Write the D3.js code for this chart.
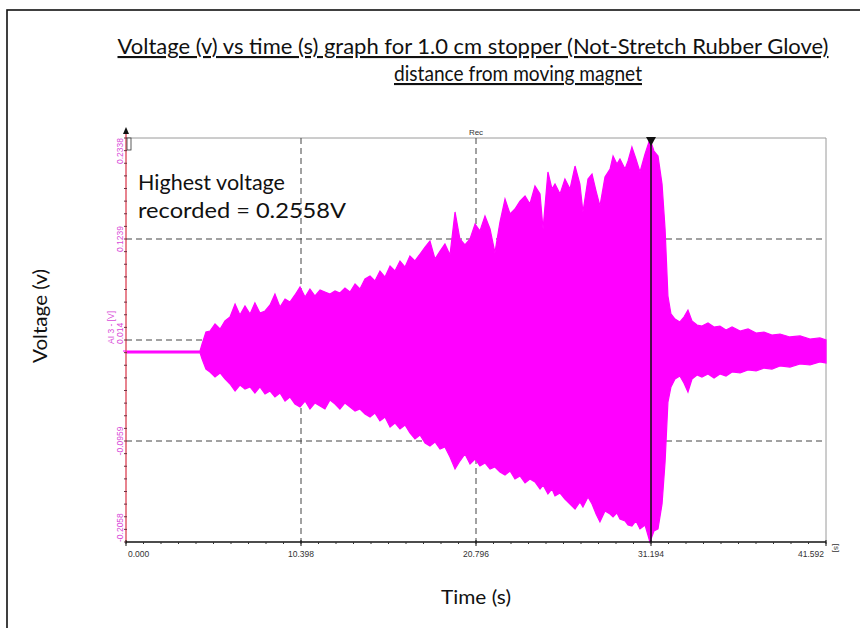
<!DOCTYPE html>
<html>
<head>
<meta charset="utf-8">
<script src="https://cdn.jsdelivr.net/npm/d3@7"></script>
<style>
  body { margin: 0; background: #fff; }
  svg { display: block; }
</style>
</head>
<body>
<svg class="chart"></svg>
<script>
// axis ticks
const xTicks = [0, 10.398, 20.796, 31.194, 41.592];
const xTickLabels = ["0.000", "10.398", "20.796", "31.194", "41.592"];
const yTicks = [0.2338, 0.1239, 0.014, -0.0959, -0.2058];
const yTickLabels = ["0.2338", "0.1239", "0.014", "-0.0959", "-0.2058"];
const cursorTime = 31.194;

// signal envelope: time (s), upper and lower voltage (V)
const times = [0, 4.40, 4.52, 4.75, 4.99, 5.29, 5.59, 5.88, 6.18, 6.48, 6.77, 7.07, 7.37, 7.66, 7.96, 8.26,
  8.56, 8.85, 9.15, 9.45, 9.74, 10.04, 10.34, 10.64, 10.93, 11.23, 11.53, 11.82, 12.12, 12.42, 12.71,
  13.01, 13.31, 13.61, 13.90, 14.20, 14.50, 14.79, 15.09, 15.39, 15.69, 15.98, 16.28, 16.58, 16.87,
  17.17, 17.47, 17.77, 18.06, 18.36, 18.66, 18.95, 19.25, 19.55, 19.84, 20.14, 20.44, 20.74, 21.03,
  21.33, 21.63, 21.92, 22.22, 22.52, 22.82, 23.11, 23.41, 23.71, 24.00, 24.30, 24.60, 24.78, 25.07,
  25.31, 25.49, 25.79, 26.08, 26.38, 26.68, 26.97, 27.15, 27.45, 27.69, 27.93, 28.16, 28.46, 28.76,
  28.94, 29.17, 29.35, 29.65, 29.83, 30.06, 30.30, 30.54, 30.84, 31.13, 31.37, 31.61, 31.85, 32.03,
  32.20, 32.38, 32.62, 32.91, 33.15, 33.39, 33.63, 33.93, 34.22, 34.58, 34.94, 35.29, 35.65, 36.01,
  36.49, 36.96, 37.44, 37.91, 38.38, 38.86, 39.45, 40.05, 40.64, 41.23, 41.592];
const upper = [0.002, 0.002, 0.0096, 0.0227, 0.0238, 0.0314, 0.026, 0.0347, 0.039, 0.0532, 0.0412, 0.051, 0.0423, 0.0543, 0.0434, 0.0456,
  0.0521, 0.064, 0.0499, 0.0586, 0.0553, 0.063, 0.0717, 0.0608, 0.0695, 0.0619, 0.0684, 0.0662, 0.064, 0.0673, 0.0651,
  0.0706, 0.0662, 0.0749, 0.0695, 0.0804, 0.0836, 0.0782, 0.0891, 0.0825, 0.0945, 0.0891, 0.1, 0.0934, 0.1054,
  0.1, 0.1076, 0.1152, 0.1217, 0.1021, 0.1108, 0.1184, 0.1065, 0.1533, 0.1239, 0.1174, 0.1239, 0.1402, 0.1326,
  0.1489, 0.1348, 0.109, 0.1424, 0.1674, 0.1511, 0.1565, 0.1652, 0.1707, 0.162, 0.1816, 0.1729, 0.1348, 0.1968,
  0.1783, 0.1837, 0.1729, 0.1892, 0.1783, 0.2033, 0.1837, 0.1533, 0.1892, 0.1946, 0.1761, 0.1598, 0.1913, 0.2,
  0.2142, 0.2055, 0.2109, 0.2, 0.2088, 0.224, 0.2109, 0.1968, 0.2164, 0.2327, 0.2196, 0.2142, 0.1837, 0.1348,
  0.0619, 0.0423, 0.0368, 0.0336, 0.039, 0.0466, 0.0347, 0.0303, 0.0292, 0.0325, 0.0281, 0.0292, 0.0249, 0.0281,
  0.0238, 0.026, 0.0216, 0.0227, 0.0194, 0.0205, 0.0173, 0.0184, 0.0151, 0.0162, 0.014];
const lower = [0.000, 0.000, -0.0067, -0.0176, -0.0208, -0.0263, -0.0219, -0.0284, -0.0339, -0.0415, -0.035, -0.0393, -0.0371, -0.0437, -0.0371, -0.0448,
  -0.0415, -0.048, -0.0437, -0.0524, -0.048, -0.0556, -0.0589, -0.0524, -0.0611, -0.0545, -0.0578, -0.0611, -0.0513, -0.0556, -0.0611,
  -0.0545, -0.0589, -0.0633, -0.0611, -0.0665, -0.0698, -0.0654, -0.0741, -0.0698, -0.0807, -0.0763, -0.0828, -0.0785, -0.0872,
  -0.0937, -0.0894, -0.0981, -0.1013, -0.097, -0.1046, -0.1024, -0.1133, -0.1264, -0.1177, -0.11, -0.1209, -0.1155, -0.1231,
  -0.1198, -0.1264, -0.1242, -0.1296, -0.1329, -0.1286, -0.1372, -0.134, -0.1416, -0.1372, -0.1405, -0.1481, -0.1438, -0.1536,
  -0.1481, -0.1557, -0.1525, -0.159, -0.1644, -0.1699, -0.1623, -0.1677, -0.1568, -0.1644, -0.1753, -0.184, -0.172, -0.1753,
  -0.1786, -0.1742, -0.1808, -0.1829, -0.1873, -0.1884, -0.1829, -0.1916, -0.1873, -0.2058, -0.1938, -0.1916, -0.1644, -0.1187,
  -0.0535, -0.0371, -0.0284, -0.0252, -0.0328, -0.0426, -0.0284, -0.0241, -0.0263, -0.023, -0.0273, -0.023, -0.0252, -0.0208,
  -0.0219, -0.0186, -0.0197, -0.0165, -0.0176, -0.0143, -0.0154, -0.0121, -0.0132, -0.0099, -0.011];

const width = 860, height = 628;
const plotLeft = 126, plotRight = 826, plotTop = 138, plotBottom = 542;
const magenta = "#ff00ff";
const textFont = "Lato, 'Open Sans', sans-serif";
const smallFont = "'Liberation Sans', Arial, sans-serif";

const svg = d3.select(".chart").attr("width", width).attr("height", height);

// outer frame (only top and left edges are inside the picture)
svg.append("rect").attr("x", 7).attr("y", 10).attr("width", 900).attr("height", 700)
  .attr("fill", "none").attr("stroke", "#111").attr("stroke-width", 1.6);

// scales
const x = d3.scaleLinear().domain([0, 41.592]).range([plotLeft, plotRight]);
const y = d3.scaleLinear().domain([-0.2058, 0.2338]).range([plotBottom, plotTop]);

// title
svg.append("text").attr("x", 473).attr("y", 54)
  .attr("text-anchor", "middle").attr("font-family", textFont).attr("font-size", 21)
  .attr("textLength", 711).attr("lengthAdjust", "spacingAndGlyphs")
  .attr("text-decoration", "underline").attr("fill", "#111")
  .text("Voltage (v) vs time (s) graph for 1.0 cm stopper (Not-Stretch Rubber Glove)");
svg.append("text").attr("x", 518).attr("y", 81)
  .attr("text-anchor", "middle").attr("font-family", textFont).attr("font-size", 21)
  .attr("textLength", 248).attr("lengthAdjust", "spacingAndGlyphs")
  .attr("text-decoration", "underline").attr("fill", "#111")
  .text("distance from moving magnet");

// plot frame (top and right, light gray)
svg.append("path").attr("d", `M${plotLeft},${plotTop}H${plotRight}V${plotBottom}`)
  .attr("fill", "none").attr("stroke", "#9a9a9a").attr("stroke-width", 1);

// dashed grid
svg.append("g").selectAll("line").data(yTicks.slice(1, 4)).join("line")
  .attr("x1", plotLeft).attr("x2", plotRight).attr("y1", d => y(d)).attr("y2", d => y(d))
  .attr("stroke", "#444").attr("stroke-dasharray", "6,4").attr("stroke-width", 1);
svg.append("g").selectAll("line").data(xTicks.slice(1, 3)).join("line")
  .attr("y1", plotTop).attr("y2", plotBottom).attr("x1", d => x(d)).attr("x2", d => x(d))
  .attr("stroke", "#444").attr("stroke-dasharray", "6,4").attr("stroke-width", 1);

// signal
const sig = times.map((t, i) => ({ t, hi: upper[i], lo: lower[i] }));
const area = d3.area().x(d => x(d.t)).y0(d => y(d.lo)).y1(d => y(d.hi)).curve(d3.curveLinear);
svg.append("path").datum(sig).attr("d", area)
  .attr("fill", magenta).attr("stroke", magenta).attr("stroke-width", 1.2).attr("stroke-linejoin", "miter");

// cursor
svg.append("line").attr("x1", x(cursorTime)).attr("x2", x(cursorTime)).attr("y1", plotTop).attr("y2", plotBottom)
  .attr("stroke", "#111").attr("stroke-width", 1.5);
svg.append("path")
  .attr("d", `M${x(cursorTime) - 5},${plotTop - 1}L${x(cursorTime) + 5},${plotTop - 1}L${x(cursorTime)},${plotTop + 8}Z`)
  .attr("fill", "#111");
svg.append("text").attr("x", x(20.796)).attr("y", plotTop - 3).attr("text-anchor", "middle")
  .attr("font-family", smallFont).attr("font-size", 8).attr("fill", "#333").text("Rec");

// y axis
const yMinor = d3.range(-0.2058, 0.2338 + 1e-9, 0.1099 / 8);
svg.append("line").attr("x1", plotLeft).attr("x2", plotLeft).attr("y1", plotTop - 6).attr("y2", plotBottom)
  .attr("stroke", "#e05a6a").attr("stroke-width", 1.5);
svg.append("g").selectAll("line").data(yMinor).join("line")
  .attr("x1", plotLeft - 2).attr("x2", plotLeft + 1).attr("y1", d => y(d)).attr("y2", d => y(d))
  .attr("stroke", "#703040").attr("stroke-width", 1);
svg.append("path").attr("d", `M${plotLeft - 3},${plotTop - 4}L${plotLeft + 3},${plotTop - 4}L${plotLeft},${plotTop - 11}Z`).attr("fill", "#111");
svg.append("rect").attr("x", plotLeft + 1).attr("y", plotTop).attr("width", 4).attr("height", 12)
  .attr("fill", "#fff").attr("stroke", "#333").attr("stroke-width", 0.8);

const yAnchor = (i) => i === 0 ? "end" : i === yTicks.length - 1 ? "start" : i === 2 ? "start" : "middle";
svg.append("g").selectAll("text").data(yTicks).join("text")
  .attr("transform", (d, i) => `translate(${plotLeft - 3},${y(d) + (i === 2 ? 4 : 0)}) rotate(-90)`)
  .attr("text-anchor", (d, i) => yAnchor(i))
  .attr("font-family", smallFont).attr("font-size", 8.5).attr("fill", "#d84ad8")
  .text((d, i) => yTickLabels[i]);
svg.append("text").attr("transform", `translate(${plotLeft - 12},${y(0.014) + 4}) rotate(-90)`)
  .attr("text-anchor", "start").attr("font-family", smallFont).attr("font-size", 8.5).attr("fill", "#d84ad8")
  .text("AI 3 - [V]");
// small pink stub at the left of the y-axis (signal baseline marker)
svg.append("line").attr("x1", plotLeft - 3).attr("x2", plotLeft).attr("y1", y(upper[0])).attr("y2", y(upper[0]))
  .attr("stroke", magenta).attr("stroke-width", 1);

// x axis
const xMinor = d3.range(0, 41.592 + 1e-9, 41.592 / 40);
svg.append("line").attr("x1", plotLeft).attr("x2", plotRight).attr("y1", plotBottom).attr("y2", plotBottom)
  .attr("stroke", "#111").attr("stroke-width", 1.5);
svg.append("g").selectAll("line").data(xMinor).join("line")
  .attr("x1", d => x(d)).attr("x2", d => x(d)).attr("y1", plotBottom).attr("y2", plotBottom + 2)
  .attr("stroke", "#333").attr("stroke-width", 1);
svg.append("g").selectAll("line").data(xTicks).join("line")
  .attr("x1", d => x(d)).attr("x2", d => x(d)).attr("y1", plotBottom - 2).attr("y2", plotBottom + 4)
  .attr("stroke", "#111").attr("stroke-width", 1);
svg.append("g").selectAll("text").data(xTicks).join("text")
  .attr("x", (d, i) => x(d) + (i === 0 ? 2 : i === xTicks.length - 1 ? -2 : 0))
  .attr("y", plotBottom + 15)
  .attr("text-anchor", (d, i) => i === 0 ? "start" : i === xTicks.length - 1 ? "end" : "middle")
  .attr("font-family", smallFont).attr("font-size", 8.5).attr("fill", "#333")
  .text((d, i) => xTickLabels[i]);
svg.append("text").attr("transform", `translate(${plotRight + 8},${plotBottom + 6}) rotate(90)`)
  .attr("text-anchor", "middle").attr("font-family", smallFont).attr("font-size", 8).attr("fill", "#333")
  .text("[s]");

// annotation
svg.append("text").attr("x", 138).attr("y", 190)
  .attr("font-family", textFont).attr("font-size", 21).attr("fill", "#111")
  .attr("textLength", 147).attr("lengthAdjust", "spacingAndGlyphs").text("Highest voltage");
svg.append("text").attr("x", 138).attr("y", 218)
  .attr("font-family", textFont).attr("font-size", 21).attr("fill", "#111")
  .attr("textLength", 208).attr("lengthAdjust", "spacingAndGlyphs").text("recorded = 0.2558V");

// axis titles
svg.append("text").attr("transform", `translate(47,316) rotate(-90)`)
  .attr("text-anchor", "middle").attr("font-family", textFont).attr("font-size", 20).attr("fill", "#111")
  .attr("textLength", 94).attr("lengthAdjust", "spacingAndGlyphs")
  .text("Voltage (v)");
svg.append("text").attr("x", 476).attr("y", 604)
  .attr("text-anchor", "middle").attr("font-family", textFont).attr("font-size", 20).attr("fill", "#111")
  .attr("textLength", 70).attr("lengthAdjust", "spacingAndGlyphs")
  .text("Time (s)");
</script>
</body>
</html>
